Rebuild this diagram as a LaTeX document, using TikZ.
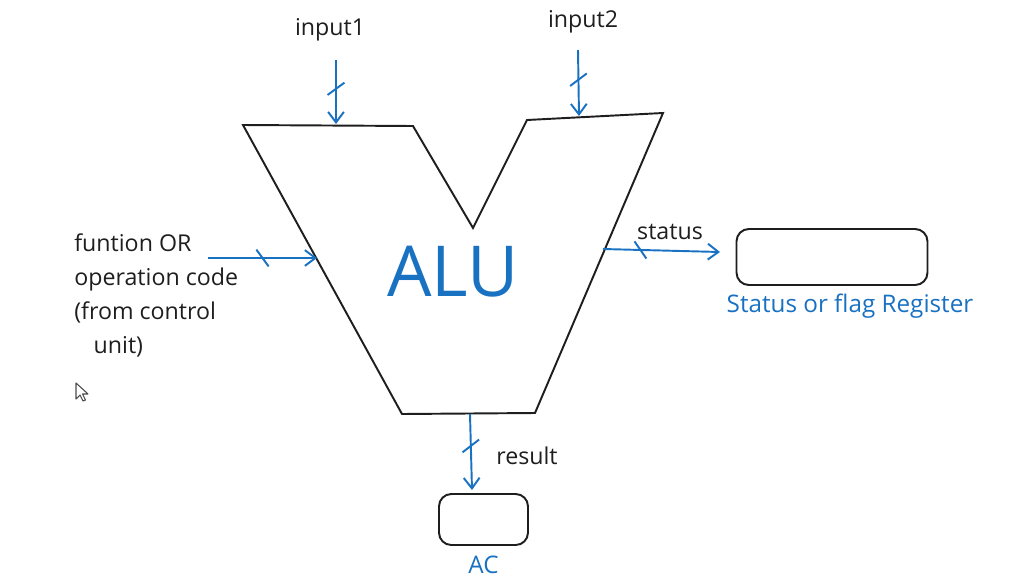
\documentclass[tikz,border=0pt]{standalone}
\usepackage{fontspec}
\setmainfont{Open Sans}
\usepackage{xcolor}
\usetikzlibrary{
    arrows.meta,
    decorations.markings,
    calc,
    positioning
}
\definecolor{pen}{HTML}{1E1E1E}
\definecolor{sketchblue}{HTML}{1971C2}
\tikzset{
    x=0.02cm, y=0.02cm,
    >={Straight Barb[length=6pt,width=9pt,line width=1.1pt]},
    alu/.style={draw=pen, line width=1.1pt, line join=miter},
    bus/.style={draw=sketchblue, line width=1.1pt, ->,
        postaction={decorate},
        decoration={markings, mark=at position #1 with
            {\draw[-, sketchblue, line width=1.1pt] (-3.5pt,4.8pt) -- (3.5pt,-4.8pt);}}},
    bus/.default=0.42,
    reg/.style={draw=pen, line width=1.1pt, rounded corners=7pt},
    lbl/.style={text=pen, font=\fontsize{13.2}{19.4}\selectfont, inner sep=0pt},
    bluelbl/.style={text=sketchblue, font=\fontsize{13.8}{19.4}\selectfont, inner sep=0pt}
}

\begin{document}
\begin{tikzpicture}
    \useasboundingbox (0,0) rectangle (1025,-582);
    % ALU outline
    \coordinate (tl) at (243,-125);
    \coordinate (tm1) at (413,-126);
    \coordinate (notch) at (473,-228);
    \coordinate (tm2) at (527,-120);
    \coordinate (tr) at (663,-113);
    \coordinate (br) at (535,-413);
    \coordinate (bl) at (402,-414);
    \draw[alu] (tl) -- (tm1) -- (notch) -- (tm2) -- (tr) -- (br) -- (bl) -- cycle;
    \node[text=sketchblue, font=\fontsize{40}{40}\selectfont] (alutext) at (453,-272) {ALU};

    % registers
    \node[reg, minimum width=3.82cm, minimum height=1.12cm] (sreg) at (832,-257) {};
    \node[bluelbl, below=0.16cm of sreg, xshift=0.36cm] (sregname) {Status or flag Register};
    \node[reg, minimum width=1.78cm, minimum height=1.02cm] (ac) at (483.5,-519.5) {};
    \node[bluelbl, below=0.2cm of ac] (acname) {AC};

    % inputs
    \node[lbl] (in1) at (330,-30) {input1};
    \coordinate (in1from) at (336,-60);
    \coordinate (in1to) at (336,-124);
    \draw[bus=0.45] (in1from) -- (in1to);

    \node[lbl] (in2) at (583,-22) {input2};
    \coordinate (in2from) at (578,-50);
    \coordinate (in2to) at (579,-116);
    \draw[bus=0.45] (in2from) -- (in2to);

    \node[lbl, align=left, anchor=north west] (func) at (74,-233)
        {funtion OR\\operation code\\(from control\\\hspace*{11pt}unit)};
    \coordinate (fnfrom) at (208,-258);
    \coordinate (fnto) at (317,-258);
    \draw[bus=0.5] (fnfrom) -- (fnto);

    % outputs
    \node[lbl] (st) at (670,-232) {status};
    \coordinate (stfrom) at (603,-249);
    \coordinate (stto) at (720,-252);
    \draw[bus=0.32] (stfrom) -- (stto);

    \node[lbl] (res) at (527,-456) {result};
    \coordinate (resfrom) at (470,-414);
    \coordinate (resto) at (472,-490);
    \draw[bus=0.42] (resfrom) -- (resto);

    % mouse pointer
    \draw[pen!80, line width=0.6pt, fill=white, line join=round]
        (76,-383) -- (76,-399) -- (80,-395) -- (83,-401) -- (85.5,-400)
        -- (82.5,-394) -- (88,-394) -- cycle;
\end{tikzpicture}
\end{document}
